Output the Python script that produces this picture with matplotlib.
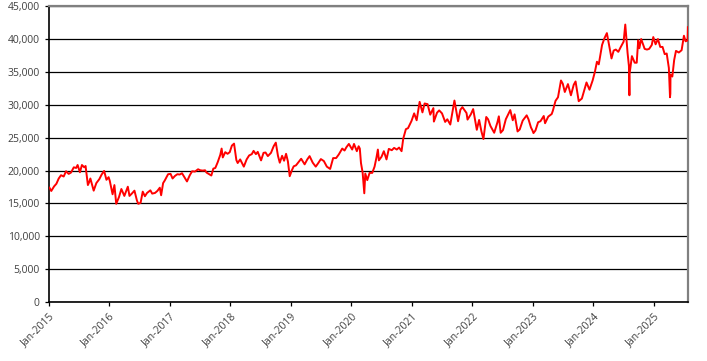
import matplotlib
matplotlib.use("Agg")
import matplotlib.pyplot as plt
import matplotlib.dates as mdates
import matplotlib.ticker as mticker
import pandas as pd

# Index level, roughly twice a month plus turning points
DATES = [
    "2015-01-05", "2015-01-16", "2015-02-02", "2015-02-16", "2015-03-02", "2015-03-16", "2015-04-01",
    "2015-04-15", "2015-05-01", "2015-05-15", "2015-06-01", "2015-06-15", "2015-06-24", "2015-07-08",
    "2015-07-20", "2015-08-03", "2015-08-11", "2015-08-25", "2015-09-01", "2015-09-09", "2015-09-29",
    "2015-10-15", "2015-11-02", "2015-11-16", "2015-12-01", "2015-12-15", "2015-12-28",
    "2016-01-04", "2016-01-21", "2016-02-01", "2016-02-12", "2016-02-29", "2016-03-14", "2016-04-01",
    "2016-04-22", "2016-05-02", "2016-05-16", "2016-06-01", "2016-06-16", "2016-06-24", "2016-07-08",
    "2016-07-21", "2016-08-03", "2016-08-16", "2016-09-05", "2016-09-16", "2016-10-03", "2016-10-17",
    "2016-11-01", "2016-11-09", "2016-11-21", "2016-12-01", "2016-12-21",
    "2017-01-05", "2017-01-17", "2017-02-01", "2017-02-15", "2017-03-01", "2017-03-15", "2017-04-01",
    "2017-04-14", "2017-05-01", "2017-05-15", "2017-06-01", "2017-06-20", "2017-07-03", "2017-07-18",
    "2017-08-01", "2017-08-10", "2017-08-29", "2017-09-08", "2017-09-20", "2017-10-02", "2017-10-16",
    "2017-11-01", "2017-11-09", "2017-11-16", "2017-12-01", "2017-12-15", "2017-12-28",
    "2018-01-10", "2018-01-23", "2018-02-06", "2018-02-14", "2018-03-01", "2018-03-23", "2018-04-09",
    "2018-04-24", "2018-05-10", "2018-05-21", "2018-06-04", "2018-06-15", "2018-07-05", "2018-07-20",
    "2018-08-01", "2018-08-15", "2018-09-03", "2018-09-19", "2018-10-02", "2018-10-15", "2018-10-26",
    "2018-11-09", "2018-11-21", "2018-12-03", "2018-12-14", "2018-12-25",
    "2019-01-07", "2019-01-18", "2019-02-01", "2019-02-21", "2019-03-04", "2019-03-25", "2019-04-10",
    "2019-04-24", "2019-05-13", "2019-05-31", "2019-06-14", "2019-07-01", "2019-07-19", "2019-08-06",
    "2019-08-26", "2019-09-13", "2019-10-01", "2019-10-17", "2019-11-07", "2019-11-21", "2019-12-02",
    "2019-12-17",
    "2020-01-06", "2020-01-17", "2020-02-03", "2020-02-14", "2020-02-21", "2020-02-28", "2020-03-09",
    "2020-03-19", "2020-03-25", "2020-04-06", "2020-04-20", "2020-05-06", "2020-05-20", "2020-06-01",
    "2020-06-09", "2020-06-15", "2020-07-01", "2020-07-15", "2020-07-31", "2020-08-14", "2020-09-01",
    "2020-09-15", "2020-10-01", "2020-10-15", "2020-10-30", "2020-11-09", "2020-11-25", "2020-12-08",
    "2020-12-29",
    "2021-01-14", "2021-01-29", "2021-02-16", "2021-03-05", "2021-03-18", "2021-04-05", "2021-04-21",
    "2021-05-10", "2021-05-13", "2021-06-01", "2021-06-14", "2021-07-01", "2021-07-20", "2021-08-02",
    "2021-08-20", "2021-09-03", "2021-09-14", "2021-10-06", "2021-10-20", "2021-11-01", "2021-11-26",
    "2021-12-02", "2021-12-22",
    "2022-01-05", "2022-01-27", "2022-02-10", "2022-02-24", "2022-03-08", "2022-03-25", "2022-04-05",
    "2022-04-19", "2022-05-12", "2022-05-31", "2022-06-09", "2022-06-20", "2022-07-04", "2022-07-21",
    "2022-08-17", "2022-09-01", "2022-09-12", "2022-09-30", "2022-10-13", "2022-10-31", "2022-11-24",
    "2022-12-05", "2022-12-20", "2022-12-29",
    "2023-01-04", "2023-01-16", "2023-02-01", "2023-02-15", "2023-03-07", "2023-03-15", "2023-04-03",
    "2023-04-24", "2023-05-01", "2023-05-17", "2023-06-01", "2023-06-19", "2023-06-30", "2023-07-12",
    "2023-07-31", "2023-08-18", "2023-09-04", "2023-09-15", "2023-10-04", "2023-10-23", "2023-11-20",
    "2023-12-08", "2023-12-27",
    "2024-01-10", "2024-01-22", "2024-02-02", "2024-02-22", "2024-03-07", "2024-03-22", "2024-04-05",
    "2024-04-19", "2024-05-02", "2024-05-15", "2024-05-30", "2024-06-14", "2024-07-01", "2024-07-11",
    "2024-07-25", "2024-08-02", "2024-08-05", "2024-08-06", "2024-08-20", "2024-09-06", "2024-09-18",
    "2024-09-27", "2024-10-04", "2024-10-15", "2024-11-05", "2024-11-19", "2024-12-02", "2024-12-18",
    "2024-12-27",
    "2025-01-10", "2025-01-24", "2025-02-07", "2025-02-21", "2025-03-06", "2025-03-18", "2025-03-31",
    "2025-04-07", "2025-04-09", "2025-04-10", "2025-04-21", "2025-05-02", "2025-05-13", "2025-05-30",
    "2025-06-16", "2025-06-30", "2025-07-10", "2025-07-22", "2025-07-24",
]
LEVELS = [
    17400, 16900, 17600, 18000, 18800, 19300, 19100,
    19900, 19500, 19700, 20500, 20400, 20850, 19750,
    20850, 20500, 20700, 17800, 18200, 18800, 16950,
    18100, 18700, 19400, 19950, 18600, 19000,
    18450, 16400, 17800, 14950, 16000, 17200, 16150,
    17550, 16150, 16500, 16950, 15450, 14950, 15100,
    16800, 16100, 16600, 17000, 16500, 16600, 16900,
    17400, 16250, 18100, 18500, 19450,
    19500, 18800, 19200, 19450, 19400, 19600, 18900,
    18350, 19300, 19900, 19850, 20200, 20050, 20000,
    20050, 19700, 19400, 19250, 20300, 20400, 21250,
    22400, 23350, 22000, 22800, 22550, 22800,
    23800, 24100, 21600, 21150, 21700, 20600, 21700,
    22300, 22500, 23000, 22500, 22850, 21550, 22700,
    22750, 22200, 22700, 23700, 24250, 22250, 21200,
    22250, 21500, 22550, 21400, 19150,
    20050, 20650, 20800, 21450, 21800, 20950, 21700,
    22200, 21200, 20600, 21100, 21750, 21450, 20600,
    20250, 21900, 21900, 22450, 23350, 23050, 23550,
    24050,
    23200, 24050, 22950, 23700, 23350, 21150, 19700,
    16550, 19550, 18550, 19650, 19650, 20600, 22050,
    23200, 21550, 22100, 22950, 21700, 23300, 23100,
    23450, 23200, 23500, 22950, 24850, 26300, 26450,
    27550,
    28700, 27650, 30450, 28850, 30200, 30100, 28500,
    29500, 27450, 28800, 29150, 28700, 27400, 27800,
    27000, 29100, 30650, 27500, 29250, 29650, 28750,
    27750, 28550,
    29350, 26200, 27700, 25950, 24800, 28150, 27800,
    26800, 25750, 27300, 28250, 25750, 26150, 27800,
    29200, 27650, 28550, 25950, 26250, 27600, 28400,
    27800, 26550, 26100,
    25700, 26100, 27350, 27500, 28300, 27200, 28200,
    28600, 29100, 30600, 31150, 33700, 33200, 31950,
    33150, 31450, 33050, 33550, 30550, 30950, 33400,
    32300, 33700,
    35050, 36550, 36150, 39100, 40100, 40900, 38950,
    37050, 38250, 38400, 38050, 38800, 39600, 42200,
    37850, 35900, 31450, 34700, 37400, 36400, 36400,
    39800, 38600, 40000, 38500, 38400, 38500, 39100,
    40300,
    39200, 40000, 38800, 38800, 37700, 37800, 35600,
    31150, 31700, 34600, 34300, 36800, 38200, 37950,
    38300, 40500, 39650, 39800, 41800,
]
TICK_YEARS = list(range(2015, 2026))

plt.rcParams["font.family"] = ["Open Sans", "DejaVu Sans"]

dates = pd.to_datetime(DATES)

fig = plt.figure(figsize=(7.07, 3.61), dpi=100)
ax = fig.add_axes([0.069, 0.163, 0.904, 0.820])

ax.plot(dates, LEVELS, color="#FF0000", linewidth=1.4, zorder=3)

ax.set_ylim(0, 45000)
ax.set_yticks(range(0, 45001, 5000))
ax.yaxis.set_major_formatter(mticker.FuncFormatter(lambda v, _: f"{int(v):,}"))
ax.yaxis.grid(True, color="black", linewidth=0.9)
ax.set_axisbelow(True)

ax.set_xlim(pd.Timestamp("2015-01-01"), dates[-1])
ax.set_xticks([pd.Timestamp(f"{y}-01-01") for y in TICK_YEARS])
ax.xaxis.set_major_formatter(mdates.DateFormatter("%b-%Y"))
plt.setp(ax.get_xticklabels(), rotation=45, ha="right", rotation_mode="anchor")

ax.tick_params(axis="both", labelsize=7.5, labelcolor="#404040", length=3, width=0.9, color="black")

for side in ("left", "bottom"):
    ax.spines[side].set_color("black")
    ax.spines[side].set_linewidth(1.2)
for side in ("top", "right"):
    ax.spines[side].set_color("#808080")
    ax.spines[side].set_linewidth(1.6)

fig.savefig("out.png", dpi=100)
